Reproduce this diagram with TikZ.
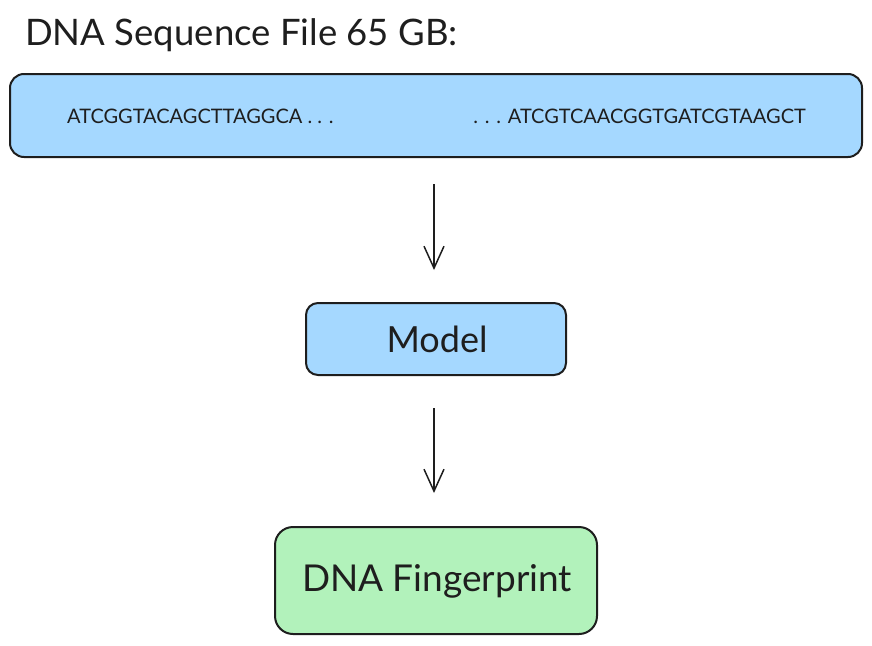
\documentclass[tikz,border=0pt]{standalone}
\usepackage{fontspec}
\setmainfont{Lato}
\usetikzlibrary{arrows.meta}
\definecolor{boxblue}{HTML}{A5D8FF}
\definecolor{boxgreen}{HTML}{B2F2BB}
\definecolor{ink}{HTML}{1E1E1E}
\begin{document}
\begin{tikzpicture}[x=1pt,y=-1pt,
  box/.style={draw=ink,line width=2pt,rounded corners=14pt,inner sep=0pt},
  conn/.style={draw=ink,line width=1.5pt,-{Straight Barb[length=22pt,width=20pt,line width=1.5pt]}},
  txt/.style={text=ink,inner sep=0pt}]
\useasboundingbox (0,0) rectangle (872,645);
\node[txt,anchor=west,font=\fontsize{36.5}{40}\selectfont] (title) at (25,35) {DNA Sequence File 65 GB:};
\node[box,fill=boxblue,minimum width=852pt,minimum height=83pt] (seq) at (436,115.5) {};
\node[txt,anchor=west,font=\fontsize{20}{24}\selectfont] (s1) at (67,116) {ATCGGTACAGCTTAGGCA . . .};
\node[txt,anchor=east,font=\fontsize{20}{24}\selectfont] (s2) at (806,116) {. . . ATCGTCAACGGTGATCGTAAGCT};
\node[box,fill=boxblue,minimum width=260pt,minimum height=72pt,rounded corners=12pt] (model) at (436,339) {};
\node[txt,font=\fontsize{36}{40}\selectfont] (mt) at (437,339) {Model};
\node[box,fill=boxgreen,minimum width=322pt,minimum height=107pt,rounded corners=18pt] (fp) at (436,580.5) {};
\node[txt,font=\fontsize{37}{42}\selectfont] (ft) at (437,581) {DNA Fingerprint};
\draw[conn,shorten <=26pt,shorten >=32pt] (seq.south -| 434,0) -- (model.north -| 434,0);
\draw[conn,shorten <=32pt,shorten >=33pt] (model.south -| 434,0) -- (fp.north -| 434,0);
\end{tikzpicture}
\end{document}
